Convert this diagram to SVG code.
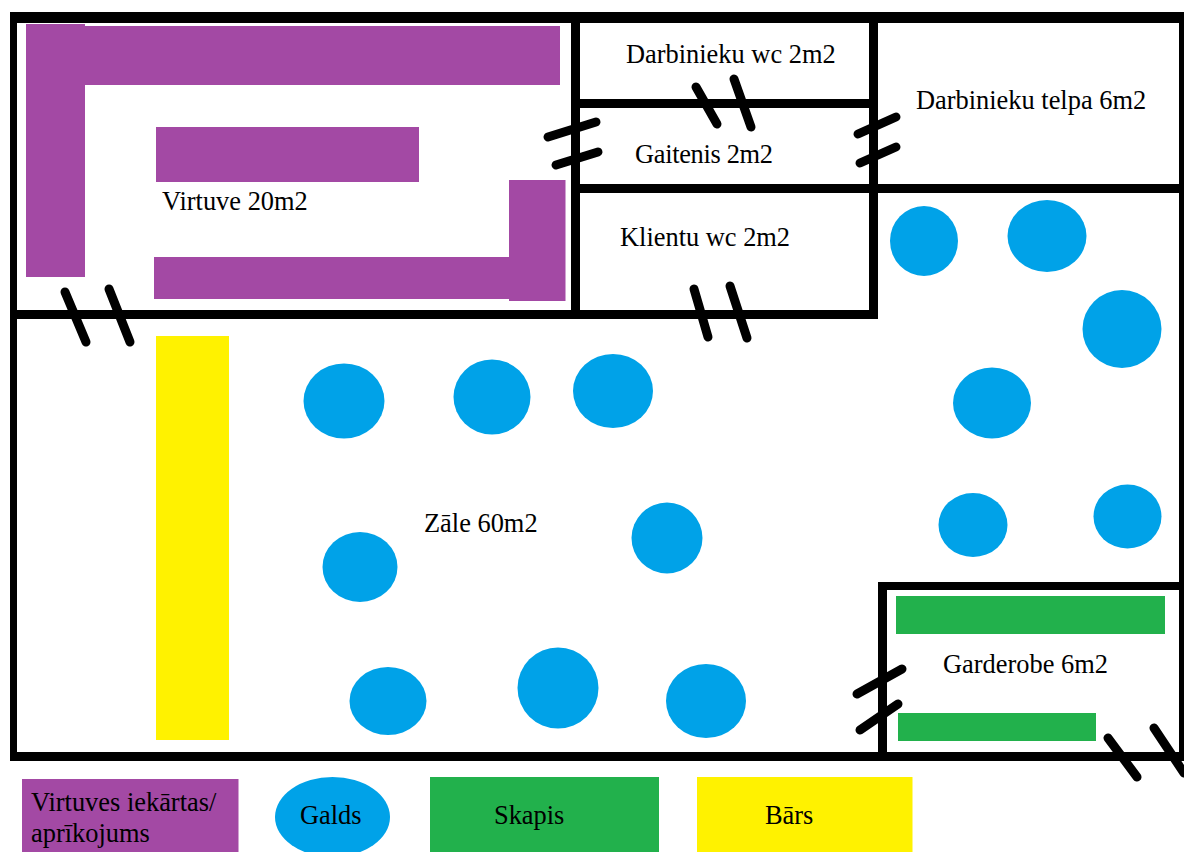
<svg xmlns="http://www.w3.org/2000/svg" width="1184" height="852" viewBox="0 0 1184 852">
<style>
.wall{fill:#000}
.door{stroke:#000;stroke-width:9;stroke-linecap:round;fill:none}
.kit{fill:#a349a4}
.table{fill:#00a2e8}
.closet{fill:#22b14c}
.bar{fill:#fff200}
text{font-family:"Liberation Serif","Times New Roman",serif;font-size:26.400px;fill:#000}
</style>
<rect width="1184" height="852" fill="#fff"/>
<g id="equipment">
<rect class="kit" x="26" y="24" width="59" height="253"/>
<rect class="kit" x="85" y="26" width="475" height="59"/>
<rect class="kit" x="156" y="127" width="263" height="55"/>
<rect class="kit" x="154" y="257" width="356" height="42"/>
<rect class="kit" x="509" y="180" width="56.500" height="121"/>
<rect class="bar" x="156" y="336" width="73" height="404"/>
<rect class="closet" x="896" y="596" width="269" height="38"/>
<rect class="closet" x="898" y="713" width="198" height="28"/>
</g>
<g id="tables">
<ellipse class="table" cx="344" cy="401" rx="40.500" ry="37.500"/>
<ellipse class="table" cx="492" cy="397" rx="38.500" ry="37.500"/>
<ellipse class="table" cx="613" cy="391" rx="40" ry="37"/>
<ellipse class="table" cx="360" cy="567" rx="37.500" ry="35"/>
<ellipse class="table" cx="667" cy="538" rx="35.500" ry="35.500"/>
<ellipse class="table" cx="388" cy="701" rx="38.500" ry="34"/>
<ellipse class="table" cx="558" cy="688" rx="40.500" ry="40.500"/>
<ellipse class="table" cx="706" cy="701" rx="40" ry="37"/>
<ellipse class="table" cx="924" cy="241" rx="34" ry="35"/>
<ellipse class="table" cx="1047" cy="236" rx="39.500" ry="36"/>
<ellipse class="table" cx="1122" cy="329" rx="39.500" ry="39"/>
<ellipse class="table" cx="992" cy="403" rx="39" ry="35.500"/>
<ellipse class="table" cx="973" cy="525" rx="34.500" ry="32"/>
<ellipse class="table" cx="1127.500" cy="516.500" rx="34" ry="32"/>
</g>
<g id="walls">
<rect class="wall" x="10" y="12" width="1174" height="11"/>
<rect class="wall" x="10" y="12" width="7" height="749"/>
<rect class="wall" x="10" y="752" width="1174" height="9"/>
<rect class="wall" x="1179" y="12" width="5" height="749"/>
<rect class="wall" x="571" y="12" width="9" height="307"/>
<rect class="wall" x="869" y="12" width="9" height="307"/>
<rect class="wall" x="580" y="99" width="289" height="9"/>
<rect class="wall" x="571" y="184" width="613" height="9"/>
<rect class="wall" x="10" y="310" width="868" height="9"/>
<rect class="wall" x="878" y="582" width="9" height="179"/>
<rect class="wall" x="878" y="582" width="306" height="8"/>
</g>
<g id="connectors">
<path class="door" d="M65 292L86 342M109 289L130 342"/>
<path class="door" d="M548 137L596 122M556 165L598 152"/>
<path class="door" d="M696 87L717 124M734 79L751 127"/>
<path class="door" d="M858 134L896 117M860 163L896 147"/>
<path class="door" d="M694 289L708 337M730 286L747 338"/>
<path class="door" d="M857 694L902 669M860 730L898 704"/>
<path class="door" d="M1108 738L1137 777M1154 728L1184 773"/>
</g>
<g id="labels">
<text x="162" y="210">Virtuve 20m2</text>
<text x="626" y="63">Darbinieku wc 2m2</text>
<text x="916" y="109">Darbinieku telpa 6m2</text>
<text x="635" y="162.500" textLength="138">Gaitenis 2m2</text>
<text x="620" y="246">Klientu wc 2m2</text>
<text x="424" y="532">Zāle 60m2</text>
<text x="943" y="673">Garderobe 6m2</text>
</g>
<g id="legend">
<g id="legend-equipment"><rect class="kit" x="22" y="779" width="216.500" height="73"/><text x="31" y="811">Virtuves iekārtas/</text><text x="31" y="842">aprīkojums</text></g>
<g id="legend-table"><ellipse class="table" cx="332.500" cy="817" rx="57.500" ry="40"/><text x="300" y="824">Galds</text></g>
<g id="legend-closet"><rect class="closet" x="430" y="777" width="229" height="75"/><text x="494" y="824">Skapis</text></g>
<g id="legend-bar"><rect class="bar" x="697" y="777" width="215.500" height="75"/><text x="765" y="824">Bārs</text></g>
</g>
</svg>
